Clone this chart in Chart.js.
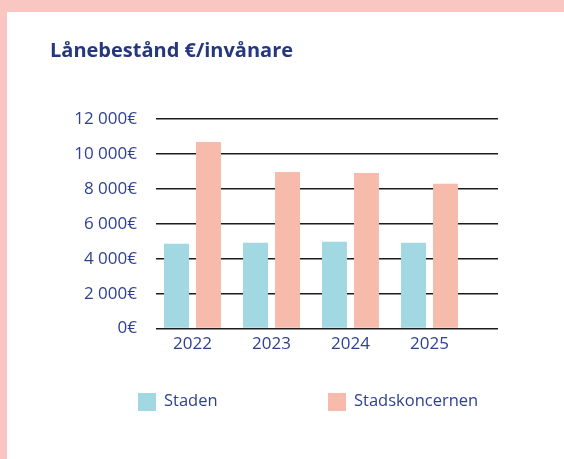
<!DOCTYPE html>
<html>
<head>
<meta charset="utf-8">
<script src="https://cdn.jsdelivr.net/npm/chart.js@4.4.1/dist/chart.umd.min.js"></script>
<style>
  html, body { margin: 0; padding: 0; background: #fff; }
  #frame {
    position: relative;
    width: 557px;
    height: 447px;
    border-top: 12px solid #f9c6c1;
    border-left: 7px solid #f9c6c1;
    background: #fff;
    overflow: hidden;
  }
  #loanChart { position: absolute; left: 0; top: 0; }
  .legend-item {
    position: absolute;
    top: 378px;
    display: flex;
    align-items: center;
    font: 16.5px 'Open Sans', sans-serif;
    color: #2f4190;
  }
  .legend-box { width: 18px; height: 18px; margin-right: 8px; }
  .legend-item span { position: relative; top: -2px; }
</style>
</head>
<body>
<div id="frame">
  <canvas id="loanChart" width="557" height="447"></canvas>
  <div id="legend"></div>
</div>
<script>
let years = ['2022', '2023', '2024', '2025'];
let seriesNames = ['Staden', 'Stadskoncernen'];
let stadenValues = [4860, 4910, 4970, 4910];
let koncernValues = [10690, 8970, 8910, 8290];
let seriesColors = ['#a1d8e1', '#f7bbac'];
let yTicks = [0, 2000, 4000, 6000, 8000, 10000, 12000];

const textBlue = '#2f4190';

formatEuro = (v) => String(v).replace(/\B(?=(\d{3})+(?!\d))/g, ' ') + '€';

const toPoints = (vals) => vals.map((v, i) => ({ x: Number(years[i]), y: v }));

const ctx = document.getElementById('loanChart');

new Chart(ctx.getContext('2d'), {
    type: 'bar',
    data: {
        datasets: [{
            label: seriesNames[0],
            data: toPoints(stadenValues),
            backgroundColor: seriesColors[0]
        }, {
            label: seriesNames[1],
            data: toPoints(koncernValues),
            backgroundColor: seriesColors[1]
        }]
    },
    options: {
        responsive: false,
        animation: false,
        categoryPercentage: 0.81,
        barPercentage: 0.78,
        layout: {
            padding: { left: 43, right: 66, top: 0, bottom: 100 }
        },
        plugins: {
            legend: { display: false },
            tooltip: { enabled: false },
            title: {
                display: true,
                text: 'Lånebestånd €/invånare',
                align: 'start',
                color: '#24377f',
                font: { family: 'Open Sans', size: 20, weight: 'bold' },
                padding: { top: 27, bottom: 56 }
            }
        },
        scales: {
            x: {
                type: 'linear',
                offset: false,
                min: 2021.538,
                max: 2025.867,
                grid: { display: false, drawTicks: false, offset: false },
                border: { display: false },
                ticks: {
                    stepSize: 1,
                    includeBounds: false,
                    padding: 5,
                    color: textBlue,
                    font: { family: 'Open Sans', size: 17 },
                    callback: (v) => String(v)
                }
            },
            y: {
                min: 0,
                max: 12000,
                afterBuildTicks: (axis) => {
                    axis.ticks = yTicks.map(v => ({ value: v }));
                },
                afterFit: (axis) => { axis.width = 106; },
                grid: { color: '#1c1c1c', lineWidth: 1.6, drawTicks: false },
                border: { display: false },
                ticks: {
                    padding: 19,
                    color: textBlue,
                    font: { family: 'Open Sans', size: 17 },
                    callback: (v) => formatEuro(v)
                }
            }
        }
    }
});

// legend boxes under the chart
let legendLeft = [131, 321];
for (var i = 0; i < seriesNames.length; i++) {
    let item = document.createElement('div');
    item.className = 'legend-item';
    item.style.left = legendLeft[i] + 'px';
    item.innerHTML = '<div class="legend-box" style="background:' + seriesColors[i] + '"></div>' +
        '<span>' + seriesNames[i] + '</span>';
    document.getElementById('legend').appendChild(item);
}
</script>
</body>
</html>
